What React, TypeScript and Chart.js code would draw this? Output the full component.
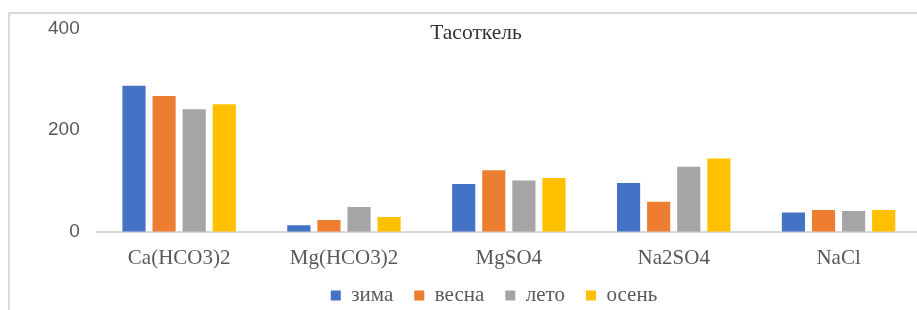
import React, { useEffect, useRef } from "react";
import { Chart, registerables } from "chart.js";

Chart.register(...registerables);

const categories = ["Ca(HCO3)2", "Mg(HCO3)2", "MgSO4", "Na2SO4", "NaCl"];
const seriesNames = ["зима", "весна", "лето", "осень"];
const zima = [287, 13, 94, 96, 38];
const vesna = [267, 23, 121, 59, 43];
const leto = [241, 49, 101, 128, 41];
const osen = [251, 29, 106, 144, 43];
const colors = ["#4472C4", "#ED7D31", "#A5A5A5", "#FFC000"];
const titleText = "Тасоткель";

export default function App() {
  const ref = useRef<HTMLCanvasElement | null>(null);
  useEffect(() => {
    if (!ref.current) return;
    const titlePlugin = {
      id: "floatTitle",
      afterLayout(chart: any) {
        const lg = chart.legend;
        if (lg) {
          lg.left += 18;
          lg.right += 18;
          lg.top -= 21;
          lg.bottom -= 21;
        }
      },
      afterDraw(chart: any) {
        const ctx = chart.ctx;
        ctx.save();
        ctx.font = "21.5px 'Liberation Serif'";
        ctx.fillStyle = "#333333";
        ctx.textAlign = "center";
        ctx.textBaseline = "middle";
        ctx.fillText(titleText, 476, 33);
        ctx.restore();
      },
    };
    const data = [zima, vesna, leto, osen];
    const chart = new Chart(ref.current, {
      type: "bar",
      data: {
        labels: categories,
        datasets: seriesNames.map((n, i) => ({
          label: n,
          data: data[i],
          backgroundColor: colors[i],
          borderWidth: 0,
          categoryPercentage: 0.73,
          barPercentage: 0.77,
        })),
      },
      options: {
        animation: false,
        responsive: false,
        maintainAspectRatio: false,
        events: [],
        layout: { padding: { left: 31, right: 4, top: 18, bottom: -27 } },
        plugins: {
          title: { display: false },
          tooltip: { enabled: false },
          legend: {
            position: "bottom",
            labels: {
              boxWidth: 10,
              boxHeight: 10,
              padding: 21,
              color: "#595959",
              font: { family: "'Liberation Serif'", size: 21 },
            },
          },
        },
        scales: {
          x: {
            grid: { display: false, tickLength: 0 },
            border: { display: true, color: "#D9D9D9", width: 2 },
            ticks: {
              color: "#595959",
              font: { family: "'Liberation Serif'", size: 21 },
              padding: 14,
            },
          },
          y: {
            min: 0,
            max: 400,
            grid: { display: false, tickLength: 0 },
            border: { display: false },
            ticks: {
              stepSize: 200,
              color: "#595959",
              font: { family: "'Liberation Sans'", size: 19 },
              padding: 17,
            },
          },
        },
      },
      plugins: [titlePlugin],
    });
    return () => chart.destroy();
  }, []);
  return (
    <div
      style={{
        position: "fixed",
        left: 0,
        top: 0,
        width: 917,
        height: 310,
        overflow: "hidden",
        background: "#fff",
      }}
    >
      <div
        style={{
          position: "absolute",
          left: 8,
          top: 12,
          width: 1000,
          height: 400,
          borderLeft: "2px solid #D9D9D9",
          borderTop: "2px solid #D9D9D9",
        }}
      />
      <canvas
        ref={ref}
        width={925}
        height={310}
        style={{ position: "absolute", left: 0, top: 0, width: 925, height: 310 }}
      />
    </div>
  );
}
